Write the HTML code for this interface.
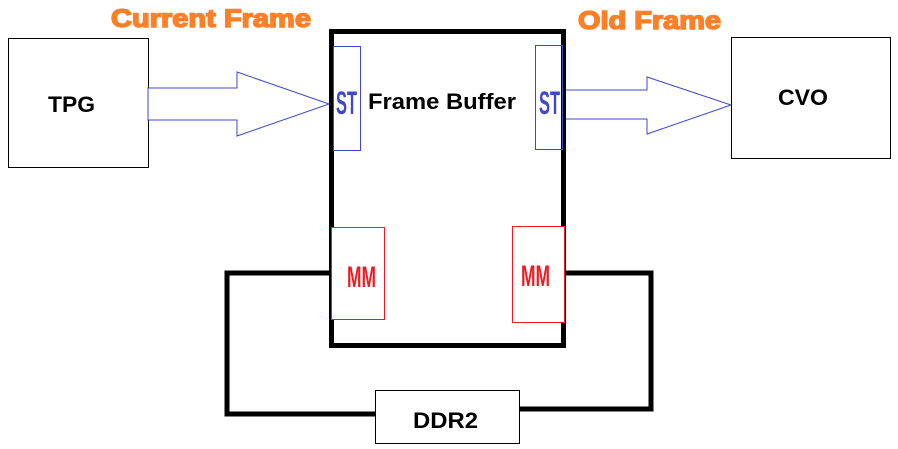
<!DOCTYPE html>
<html><head><meta charset="utf-8"><style>
html,body{margin:0;padding:0;background:#fff;}
svg{display:block;}
</style></head><body>
<svg width="898" height="449" viewBox="0 0 898 449" xmlns="http://www.w3.org/2000/svg">
<rect width="898" height="449" fill="#fff"/>
<text x="111" y="27" font-family="Liberation Sans, sans-serif" font-weight="900" font-size="25" fill="#ff7f27" stroke="#ff7f27" stroke-width="1.5" textLength="200" lengthAdjust="spacingAndGlyphs">Current Frame</text>
<text x="578" y="29" font-family="Liberation Sans, sans-serif" font-weight="900" font-size="25" fill="#ff7f27" stroke="#ff7f27" stroke-width="1.5" textLength="143" lengthAdjust="spacingAndGlyphs">Old Frame</text>
<rect x="8.5" y="38.5" width="140" height="129" fill="none" stroke="#000" stroke-width="1"/>
<text x="48" y="112" font-family="Liberation Sans, sans-serif" font-weight="bold" font-size="22" textLength="47" lengthAdjust="spacingAndGlyphs">TPG</text>
<rect x="731.5" y="37.5" width="159" height="121" fill="none" stroke="#000" stroke-width="1"/>
<text x="778" y="105" font-family="Liberation Sans, sans-serif" font-weight="bold" font-size="22" textLength="50" lengthAdjust="spacingAndGlyphs">CVO</text>
<polygon points="148,88 237,88 237,72 329,104 237,136 237,120 148,120" fill="#fff" stroke="#3f48cc" stroke-width="1"/>
<polygon points="563,90 647,90 647,77 731,105 647,134 647,119 563,119" fill="#fff" stroke="#3f48cc" stroke-width="1"/>
<polyline points="331,273 227,273 227,414 375,414" fill="none" stroke="#000" stroke-width="5"/>
<polyline points="565,273 651,273 651,409 519,409" fill="none" stroke="#000" stroke-width="5"/>
<rect x="331.5" y="31.5" width="232" height="314" fill="#fff" stroke="#000" stroke-width="5"/>
<text x="368" y="109" font-family="Liberation Sans, sans-serif" font-weight="bold" font-size="22" textLength="148" lengthAdjust="spacingAndGlyphs">Frame Buffer</text>
<rect x="333.5" y="46.5" width="27" height="104" fill="none" stroke="#3f48cc" stroke-width="1"/>
<text x="336" y="114" font-family="Liberation Sans, sans-serif" font-weight="bold" font-size="32" fill="#3f48cc" textLength="21" lengthAdjust="spacingAndGlyphs">ST</text>
<rect x="535.5" y="45.5" width="27" height="104" fill="none" stroke="#3f48cc" stroke-width="1"/>
<text x="539" y="114" font-family="Liberation Sans, sans-serif" font-weight="bold" font-size="32" fill="#3f48cc" textLength="21" lengthAdjust="spacingAndGlyphs">ST</text>
<rect x="331.5" y="227.5" width="53" height="92" fill="#fff" stroke="#ed1c24" stroke-width="1"/>
<text x="347" y="287" font-family="Liberation Sans, sans-serif" font-weight="bold" font-size="30" fill="#ed1c24" textLength="29" lengthAdjust="spacingAndGlyphs">MM</text>
<rect x="512.5" y="226.5" width="52" height="96" fill="#fff" stroke="#ed1c24" stroke-width="1"/>
<text x="521" y="286" font-family="Liberation Sans, sans-serif" font-weight="bold" font-size="30" fill="#ed1c24" textLength="29" lengthAdjust="spacingAndGlyphs">MM</text>
<rect x="375.5" y="390.5" width="144" height="53" fill="#fff" stroke="#000" stroke-width="1"/>
<text x="413" y="428" font-family="Liberation Sans, sans-serif" font-weight="bold" font-size="22" textLength="65" lengthAdjust="spacingAndGlyphs">DDR2</text>
</svg>
</body></html>
